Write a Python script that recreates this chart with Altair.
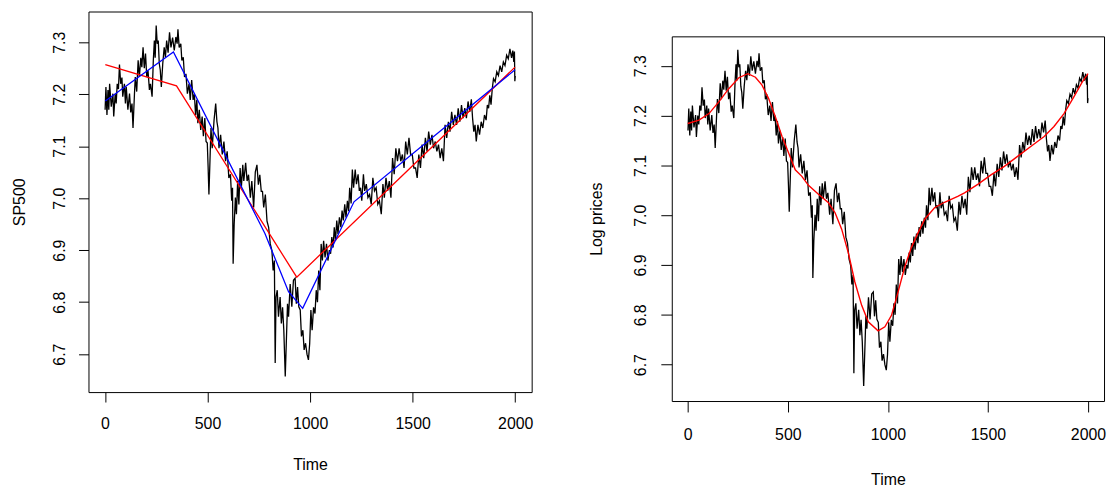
import altair as alt
import pandas as pd

# ---- data ----
sp_time = [1, 5, 10, 15, 19, 23, 31, 39, 43, 50, 55, 60, 66, 71, 77, 83, 87, 95, 100, 104,
           112, 120, 126, 132, 137, 144, 148, 155, 162, 168, 175, 180, 186, 192, 198, 204, 210, 217, 222, 230,
           236, 241, 245, 250, 255, 260, 265, 270, 275, 282, 289, 295, 301, 308, 315, 322, 330, 338, 346, 352,
           356, 362, 370, 375, 382, 388, 395, 402, 410, 416, 423, 430, 436, 442, 448, 453, 460, 467, 474, 480,
           487, 493, 499, 503, 507, 512, 517, 523, 532, 540, 546, 551, 556, 564, 572, 580, 588, 596, 604, 612,
           618, 622, 625, 630, 636, 641, 647, 653, 659, 665, 672, 677, 686, 693, 700, 709, 716, 725, 733, 741,
           748, 755, 762, 768, 774, 782, 790, 798, 806, 814, 820, 826, 830, 834, 840, 846, 854, 860, 866, 872,
           879, 884, 890, 895, 903, 911, 919, 927, 933, 939, 945, 952, 958, 965, 971, 978, 985, 992, 998, 1004,
           1010, 1017, 1024, 1030, 1036, 1042, 1048, 1054, 1060, 1066, 1073, 1080, 1087, 1094, 1100, 1106, 1112, 1118, 1124, 1130,
           1136, 1143, 1150, 1156, 1162, 1169, 1175, 1182, 1188, 1193, 1200, 1206, 1212, 1220, 1226, 1234, 1240, 1246, 1252, 1260,
           1266, 1274, 1282, 1290, 1298, 1306, 1314, 1322, 1330, 1338, 1347, 1355, 1362, 1370, 1378, 1386, 1394, 1402, 1410, 1418,
           1426, 1434, 1442, 1450, 1458, 1466, 1474, 1482, 1490, 1498, 1506, 1514, 1522, 1530, 1538, 1546, 1554, 1562, 1570, 1578,
           1586, 1594, 1602, 1610, 1618, 1626, 1634, 1642, 1650, 1658, 1666, 1674, 1682, 1690, 1698, 1706, 1714, 1722, 1730, 1738,
           1746, 1754, 1762, 1770, 1778, 1786, 1792, 1798, 1804, 1810, 1818, 1826, 1834, 1842, 1850, 1858, 1864, 1870, 1876, 1882,
           1888, 1894, 1902, 1910, 1918, 1926, 1934, 1942, 1950, 1958, 1966, 1974, 1982, 1988, 1993, 1996, 1998, 2000]
sp_value = [7.170, 7.214, 7.160, 7.208, 7.170, 7.220, 7.176, 7.201, 7.157, 7.200, 7.182, 7.220, 7.210, 7.257, 7.220, 7.232, 7.195, 7.220, 7.182, 7.214,
            7.170, 7.201, 7.165, 7.182, 7.135, 7.200, 7.233, 7.205, 7.265, 7.233, 7.270, 7.252, 7.290, 7.250, 7.278, 7.233, 7.246, 7.208, 7.220, 7.195,
            7.265, 7.303, 7.270, 7.332, 7.297, 7.303, 7.259, 7.246, 7.214, 7.259, 7.290, 7.271, 7.303, 7.280, 7.319, 7.290, 7.309, 7.284, 7.310, 7.297,
            7.325, 7.290, 7.297, 7.265, 7.271, 7.233, 7.239, 7.201, 7.220, 7.189, 7.227, 7.189, 7.200, 7.160, 7.189, 7.144, 7.170, 7.131, 7.157, 7.119,
            7.154, 7.109, 7.106, 7.061, 7.007, 7.071, 7.135, 7.096, 7.150, 7.182, 7.147, 7.135, 7.096, 7.122, 7.084, 7.109, 7.071, 7.090, 7.039, 7.046,
            6.995, 7.020, 6.874, 6.950, 7.001, 6.969, 7.033, 6.988, 7.058, 7.020, 7.064, 7.033, 7.068, 7.033, 7.045, 7.001, 7.033, 6.982, 7.050, 7.064,
            7.026, 7.045, 7.013, 7.013, 6.982, 7.007, 6.956, 6.944, 6.912, 6.899, 6.861, 6.880, 6.683, 6.810, 6.823, 6.772, 6.810, 6.759, 6.790, 6.746,
            6.657, 6.720, 6.797, 6.772, 6.835, 6.791, 6.842, 6.846, 6.797, 6.829, 6.791, 6.785, 6.734, 6.746, 6.708, 6.721, 6.700, 6.689, 6.720, 6.785,
            6.746, 6.790, 6.778, 6.823, 6.800, 6.861, 6.823, 6.912, 6.880, 6.918, 6.886, 6.912, 6.880, 6.900, 6.893, 6.925, 6.905, 6.944, 6.918, 6.957,
            6.931, 6.963, 6.944, 6.976, 6.957, 6.988, 6.963, 6.995, 6.975, 7.020, 6.990, 7.055, 7.020, 7.055, 7.027, 7.046, 7.014, 7.020, 6.995, 7.046,
            7.014, 7.027, 7.001, 7.007, 6.988, 7.039, 7.014, 7.020, 6.988, 6.995, 6.969, 7.027, 7.001, 7.039, 7.014, 7.033, 7.001, 7.077, 7.046, 7.096,
            7.071, 7.096, 7.071, 7.084, 7.058, 7.109, 7.084, 7.116, 7.084, 7.084, 7.058, 7.058, 7.039, 7.084, 7.058, 7.103, 7.077, 7.116, 7.090, 7.128,
            7.103, 7.122, 7.096, 7.109, 7.090, 7.103, 7.077, 7.096, 7.071, 7.141, 7.116, 7.147, 7.128, 7.166, 7.141, 7.160, 7.141, 7.173, 7.147, 7.179,
            7.154, 7.173, 7.154, 7.186, 7.166, 7.190, 7.154, 7.128, 7.141, 7.109, 7.141, 7.122, 7.147, 7.135, 7.160, 7.150, 7.179, 7.173, 7.198, 7.180,
            7.211, 7.230, 7.224, 7.243, 7.236, 7.255, 7.243, 7.262, 7.255, 7.275, 7.268, 7.287, 7.270, 7.284, 7.262, 7.282, 7.225, 7.235]

red_pw_time = [2, 349, 935, 1999]
red_pw_value = [7.257, 7.216, 6.848, 7.252]

blue_pw_time = [2, 334, 780, 895, 964, 1214, 1999]
blue_pw_value = [7.187, 7.281, 6.932, 6.820, 6.788, 6.993, 7.247]

smooth_time = [0, 56, 106, 156, 205, 255, 300, 338, 371, 404, 437, 471, 504, 537, 570, 603, 653, 703, 736,
               769, 802, 835, 869, 902, 951, 985, 1018, 1051, 1084, 1117, 1151, 1184, 1233, 1283, 1349, 1383,
               1449, 1515, 1582, 1648, 1714, 1781, 1830, 1880, 1930, 1971, 2000]
smooth_value = [7.184, 7.191, 7.204, 7.228, 7.254, 7.276, 7.284, 7.277, 7.261, 7.234, 7.198, 7.158, 7.125, 7.091,
                7.078, 7.060, 7.042, 7.025, 7.005, 6.972, 6.925, 6.866, 6.819, 6.786, 6.768, 6.776, 6.799, 6.846,
                6.896, 6.935, 6.965, 6.992, 7.015, 7.026, 7.038, 7.045, 7.062, 7.081, 7.098, 7.118, 7.138, 7.158,
                7.178, 7.204, 7.238, 7.267, 7.284]

x_ticks = [0, 500, 1000, 1500, 2000]
y_ticks = [6.7, 6.8, 6.9, 7.0, 7.1, 7.2, 7.3]
x_domain = [-80, 2080]
y_domain = [6.627, 7.359]

FONT = "Liberation Sans"

black_df = pd.DataFrame({"Time": sp_time, "value": sp_value})
red_df = pd.DataFrame({"Time": red_pw_time, "value": red_pw_value})
blue_df = pd.DataFrame({"Time": blue_pw_time, "value": blue_pw_value})
smooth_df = pd.DataFrame({"Time": smooth_time, "value": smooth_value})
spacer_df = pd.DataFrame({"a": [0]})


def x_axis(tick, pad, title_y, width):
    return alt.Axis(values=x_ticks, format="d", title="Time", tickSize=tick, labelPadding=pad,
                    domain=False, grid=False, tickColor="black", tickWidth=1,
                    labelColor="black", titleColor="black", labelFont=FONT, titleFont=FONT,
                    labelFontSize=16, titleFontSize=16, titleFontWeight="normal",
                    labelFlush=False, labelOverlap=False, labelBaseline="top",
                    titleX=width / 2, titleY=title_y, titleAlign="center", titleBaseline="alphabetic")


def y_axis(title, tick, pad, title_x, height):
    return alt.Axis(values=y_ticks, format=".1f", title=title, tickSize=tick, labelPadding=pad,
                    domain=False, grid=False, tickColor="black", tickWidth=1,
                    labelColor="black", titleColor="black", labelFont=FONT, titleFont=FONT,
                    labelFontSize=16, titleFontSize=16, titleFontWeight="normal",
                    labelFlush=False, labelOverlap=False, labelAngle=270,
                    labelAlign="center", labelBaseline="middle",
                    titleAngle=270, titleX=title_x, titleY=height / 2,
                    titleAlign="center", titleBaseline="alphabetic")


LW, LH = 446, 383
RW, RH = 435, 367


def line(df, color, width, xa, ya):
    return alt.Chart(df).mark_line(color=color, strokeWidth=width, clip=True).encode(
        x=alt.X("Time:Q", scale=alt.Scale(domain=x_domain, nice=False, zero=False), axis=xa),
        y=alt.Y("value:Q", scale=alt.Scale(domain=y_domain, nice=False, zero=False), axis=ya),
        order="Time:Q",
    )


lxa = x_axis(10, 14, 78, LW)
lya = y_axis("SP500", 10, 19, -64.5, LH)
left = alt.layer(
    line(black_df, "black", 1.3, lxa, lya),
    line(red_df, "#ff0000", 1.3, lxa, lya),
    line(blue_df, "#0000ff", 1.3, lxa, lya),
).properties(width=LW, height=LH)

rxa = x_axis(11, 15, 84, RW)
rya = y_axis("Log prices", 11, 20, -71, RH)
right_plot = alt.layer(
    line(black_df, "black", 1.3, rxa, rya),
    line(smooth_df, "#ff0000", 1.4, rxa, rya),
).properties(width=RW, height=RH)

spacer = alt.Chart(spacer_df).mark_point(opacity=0, size=0).encode(
    x=alt.X("a:Q", axis=None), y=alt.Y("a:Q", axis=None)
).properties(width=RW, height=3, view=alt.ViewBackground(stroke="transparent"))

right = alt.vconcat(spacer, right_plot, spacing=20)

chart = alt.hconcat(left, right, spacing=54).properties(
    padding={"left": 3, "top": 1, "right": 0, "bottom": 0},
    background="white",
).configure_view(stroke="black", strokeWidth=1)

chart.save("out.html", embed_options={"renderer": "svg", "actions": False})
